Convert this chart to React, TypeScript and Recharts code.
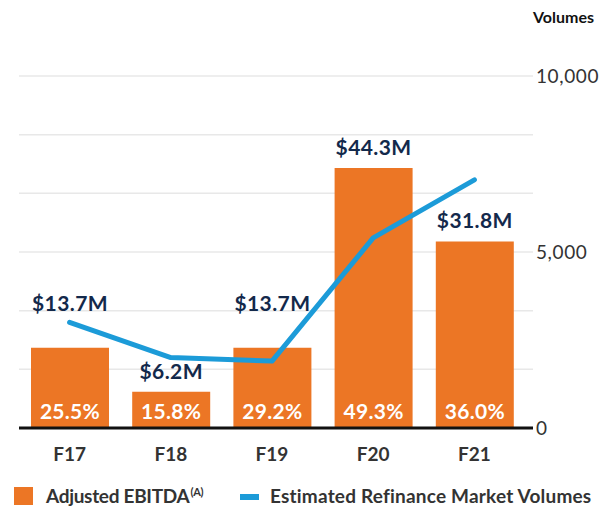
import React from "react";
import {
  ComposedChart,
  Bar,
  Line,
  XAxis,
  YAxis,
  CartesianGrid,
  LabelList,
} from "recharts";

const years = ["F17", "F18", "F19", "F20", "F21"];
const ebitda = [13.7, 6.2, 13.7, 44.3, 31.8];
const ebitdaLabels = ["$13.7M", "$6.2M", "$13.7M", "$44.3M", "$31.8M"];
const margins = ["25.5%", "15.8%", "29.2%", "49.3%", "36.0%"];
const volumes = [3000, 2000, 1900, 5400, 7050];
const volumeTicks = [0, 1667, 3333, 5000, 6667, 8333, 10000];
const shownTicks = [0, 5000, 10000];

const data = years.map((year, i) => ({
  year,
  ebitda: ebitda[i],
  label: ebitdaLabels[i],
  margin: margins[i],
  volume: volumes[i],
}));

const ORANGE = "#ec7625";
const BLUE = "#1c9bd8";
const NAVY = "#13294b";
const FONT = "Lato, 'Noto Sans', sans-serif";

// labels that sit above the line instead of right on the bar
const lifted = new Set(["F17", "F19"]);

const TopLabel = (props: any) => {
  const { x, y, width, value, index } = props;
  const lift = lifted.has(years[index]) ? 24 : 0;
  return (
    <text
      x={x + width / 2}
      y={y - 13 - lift}
      textAnchor="middle"
      fill={NAVY}
      fontFamily={FONT}
      fontWeight={700}
      fontSize={21}
      letterSpacing={0.4}
    >
      {value}
    </text>
  );
};

const MarginLabel = (props: any) => {
  const { x, y, width, height, value } = props;
  return (
    <text
      x={x + width / 2}
      y={y + height - 9}
      textAnchor="middle"
      fill="#fff"
      fontFamily={FONT}
      fontWeight={700}
      fontSize={21}
      letterSpacing={0.3}
    >
      {value}
    </text>
  );
};

const legendText: React.CSSProperties = {
  position: "absolute",
  top: 486,
  fontSize: 19,
  lineHeight: 1,
  fontWeight: 700,
  color: "#333",
  whiteSpace: "nowrap",
};

export default function App() {
  return (
    <div
      style={{
        position: "absolute",
        left: 0,
        top: 0,
        width: 611,
        height: 506,
        background: "#fff",
        fontFamily: FONT,
        overflow: "hidden",
      }}
    >
      <div
        style={{
          position: "absolute",
          left: 533,
          top: 9,
          fontSize: 16,
          lineHeight: 1,
          fontWeight: 700,
          color: "#111",
        }}
      >
        Volumes
      </div>
      <ComposedChart
        width={611}
        height={470}
        data={data}
        margin={{ top: 76, right: 0, bottom: 2, left: 19 }}
      >
        <CartesianGrid
          yAxisId="right"
          vertical={false}
          stroke="#e8e8e8"
          strokeWidth={1.5}
        />
        <XAxis
          dataKey="year"
          padding={{ left: 0, right: 8 }}
          height={40}
          tickLine={false}
          tickSize={0}
          tickMargin={20}
          axisLine={{ stroke: "#111", strokeWidth: 3 }}
          tick={{
            fill: "#333",
            fontSize: 19,
            fontWeight: 700,
            fontFamily: FONT,
          }}
        />
        <YAxis yAxisId="left" hide domain={[0, 60]} />
        <YAxis
          yAxisId="right"
          orientation="right"
          width={78}
          domain={[0, 10000]}
          ticks={volumeTicks}
          interval={0}
          axisLine={false}
          tickLine={false}
          tickSize={0}
          tickMargin={3}
          tickFormatter={(v: number) =>
            shownTicks.includes(v) ? v.toLocaleString("en-US") : ""
          }
          tick={{
            fill: "#333",
            fontSize: 19,
            fontFamily: FONT,
            letterSpacing: 0.6,
          }}
        />
        <Bar
          yAxisId="left"
          dataKey="ebitda"
          name="Adjusted EBITDA"
          fill={ORANGE}
          barSize={78}
          isAnimationActive={false}
        >
          <LabelList dataKey="label" content={TopLabel} />
          <LabelList dataKey="margin" content={MarginLabel} />
        </Bar>
        <Line
          yAxisId="right"
          dataKey="volume"
          name="Estimated Refinance Market Volumes"
          type="linear"
          stroke={BLUE}
          strokeWidth={5}
          strokeLinejoin="round"
          strokeLinecap="round"
          dot={false}
          activeDot={false}
          isAnimationActive={false}
        />
      </ComposedChart>
      <span
        style={{
          position: "absolute",
          left: 14,
          top: 487,
          width: 19,
          height: 18,
          background: ORANGE,
        }}
      />
      <span style={{ ...legendText, left: 46, letterSpacing: -0.3 }}>
        Adjusted EBITDA
        <sup style={{ fontSize: 11, marginLeft: 1 }}>(A)</sup>
      </span>
      <span
        style={{
          position: "absolute",
          left: 240,
          top: 494,
          width: 19,
          height: 6,
          background: BLUE,
        }}
      />
      <span style={{ ...legendText, left: 270, letterSpacing: 0.2 }}>
        Estimated Refinance Market Volumes
      </span>
    </div>
  );
}
